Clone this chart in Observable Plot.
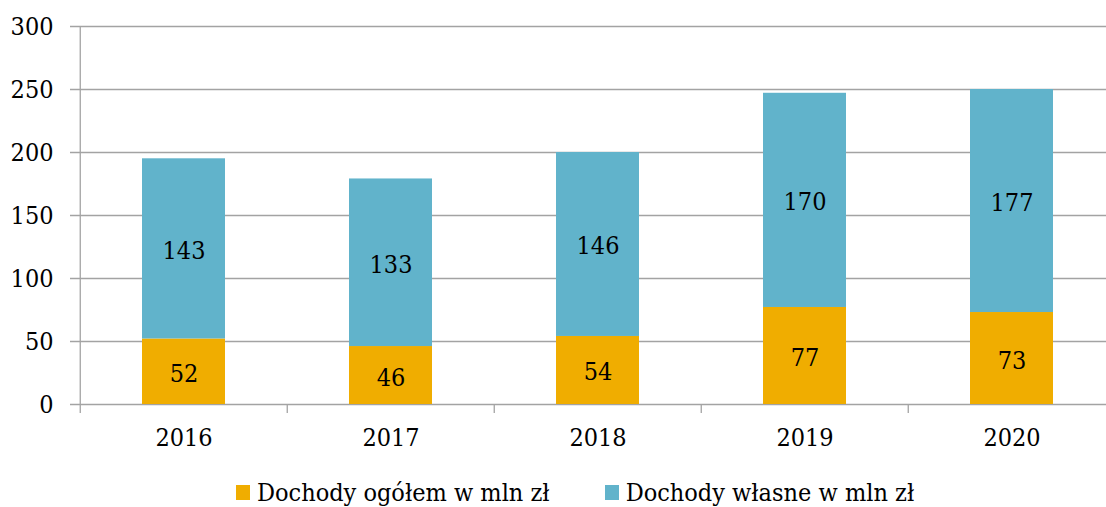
<!DOCTYPE html>
<html>
<head>
<meta charset="utf-8">
<script src="https://cdn.jsdelivr.net/npm/d3@7"></script>
<script src="https://cdn.jsdelivr.net/npm/@observablehq/plot@0.6"></script>
<style>
  html, body { margin: 0; padding: 0; background: #fff; overflow: hidden; }
  #chart { position: relative; width: 1106px; height: 507px; font-family: "DejaVu Serif Condensed", "DejaVu Serif", serif; }
  .legend { position: absolute; left: 236px; top: 478px; display: flex; align-items: center; font-size: 25px; color: #000; white-space: nowrap; }
  .legend .item { display: flex; align-items: center; margin-right: 55px; }
  .legend .sw { width: 14px; height: 15px; margin-right: 7px; }
</style>
</head>
<body>
<div id="chart"></div>
<script>
const years = ["2016", "2017", "2018", "2019", "2020"];
const seriesNames = ["Dochody ogółem w mln zł", "Dochody własne w mln zł"];
const ogolem = [52, 46, 54, 77, 73];
const wlasne = [143, 133, 146, 170, 177];
const colors = ["#F0AD00", "#61B3CB"];
const yTicks = [0, 50, 100, 150, 200, 250, 300];

const data = [];
years.forEach((yr, i) => {
  data.push({year: yr, series: seriesNames[0], value: ogolem[i]});
  data.push({year: yr, series: seriesNames[1], value: wlasne[i]});
});

const xRange = [79, 1116.5];
const halfStep = (xRange[1] - xRange[0]) / years.length / 2;
const font = '"DejaVu Serif Condensed", "DejaVu Serif", serif';
const grid = "#A3A3A3";

const plot = Plot.plot({
  width: 1106,
  height: 461,
  marginTop: 26,
  marginBottom: 57,
  marginLeft: 79,
  marginRight: 0,
  style: {fontFamily: font, fontSize: "25px", color: "#000", background: "#fff"},
  x: {domain: years, range: xRange, paddingInner: 0.6, paddingOuter: 0.3, label: null},
  y: {domain: [0, 300], label: null},
  color: {domain: seriesNames, range: colors},
  marks: [
    Plot.ruleY(yTicks, {stroke: grid, strokeWidth: 1.3, insetLeft: -9}),
    Plot.barY(data, {x: "year", y: "value", fill: "series"}),
    Plot.text(data, Plot.stackY({x: "year", y: "value", z: "series", text: d => String(d.value), fill: "#000", fontSize: 25, fontFamily: font, dy: 2})),
    Plot.ruleX([years[0]], {x: d => d, dx: -halfStep, y1: 300, y2: 0, insetBottom: -9, stroke: grid, strokeWidth: 1.3}),
    Plot.ruleX(years.slice(1), {x: d => d, dx: -halfStep, y1: 0, y2: 0, insetBottom: -9, stroke: grid, strokeWidth: 1.3}),
    Plot.axisY(yTicks, {tickSize: 0, tickPadding: 26, fontSize: 25, fill: "#000", label: null}),
    Plot.axisX({tickSize: 0, tickPadding: 24, fontSize: 25, fill: "#000", label: null})
  ]
});

const root = document.getElementById("chart");
root.appendChild(plot);
const legend = document.createElement("div");
legend.className = "legend";
seriesNames.forEach((name, i) => {
  const item = document.createElement("div");
  item.className = "item";
  const sw = document.createElement("span");
  sw.className = "sw";
  sw.style.background = colors[i];
  const t = document.createElement("span");
  t.textContent = name;
  item.appendChild(sw);
  item.appendChild(t);
  legend.appendChild(item);
});
root.appendChild(legend);
</script>
</body>
</html>
